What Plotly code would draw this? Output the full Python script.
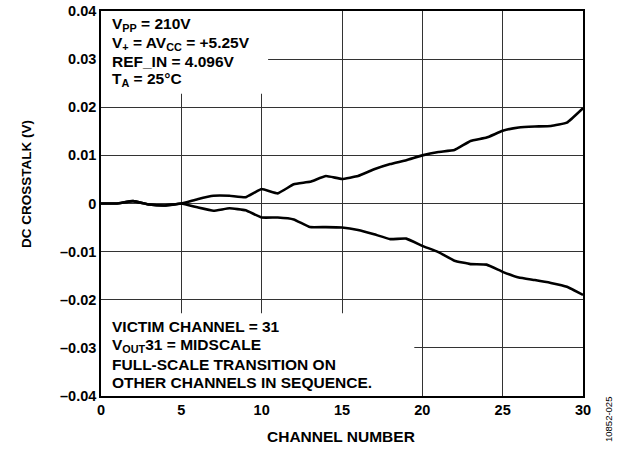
import plotly.graph_objects as go

channels = list(range(0, 31))
upper = [0, 0, 0.0005, -0.0002, -0.0004, 0, 0.0009, 0.0016, 0.0016, 0.0013, 0.003,
         0.0021, 0.004, 0.0045, 0.0057, 0.0051, 0.0057, 0.0071, 0.0082, 0.009, 0.01,
         0.0107, 0.0111, 0.013, 0.0137, 0.0151, 0.0158, 0.016, 0.0161, 0.0168, 0.0198]
lower = [0, 0, 0.0005, -0.0002, -0.0004, 0, -0.0008, -0.0015, -0.001, -0.0014, -0.0029,
         -0.0029, -0.0033, -0.0049, -0.0049, -0.005, -0.0055, -0.0064, -0.0074, -0.0073, -0.0088,
         -0.0101, -0.0119, -0.0126, -0.0127, -0.0142, -0.0154, -0.0159, -0.0165, -0.0173, -0.019]

x_ticks = [0, 5, 10, 15, 20, 25, 30]
y_ticks = [0.04, 0.03, 0.02, 0.01, 0, -0.01, -0.02, -0.03, -0.04]
y_tick_text = ["0.04", "0.03", "0.02", "0.01", "0", "–0.01", "–0.02", "–0.03", "–0.04"]

top_lines = ["V<sub>PP</sub> = 210V", "V<sub>+</sub> = AV<sub>CC</sub> = +5.25V",
             "REF_IN = 4.096V", "T<sub>A</sub> = 25°C"]
bottom_lines = ["VICTIM CHANNEL = 31", "V<sub>OUT</sub>31 = MIDSCALE",
                "FULL-SCALE TRANSITION ON", "OTHER CHANNELS IN SEQUENCE."]

FONT = "Liberation Sans, Arial, sans-serif"

fig = go.Figure()
for ys in (upper, lower):
    fig.add_trace(go.Scatter(x=channels, y=ys, mode="lines",
                             line=dict(color="black", width=2.6, shape="spline", smoothing=0.3),
                             showlegend=False, hoverinfo="skip"))

fig.update_layout(
    width=624, height=452, autosize=False,
    margin=dict(l=101, r=41, t=11, b=56, pad=0),
    paper_bgcolor="white", plot_bgcolor="white",
    font=dict(family=FONT, size=12, color="black", weight="bold"),
    xaxis=dict(range=[0, 30], tickvals=x_ticks, ticktext=[str(v) for v in x_ticks],
               showgrid=True, gridcolor="#333333", gridwidth=1, automargin=False,
               showline=True, linecolor="black", linewidth=1.5, mirror=True,
               zeroline=False, ticks="", ticklen=0,
               tickfont=dict(size=14.5, weight="bold")),
    yaxis=dict(range=[-0.04, 0.04], tickvals=y_ticks, ticktext=y_tick_text,
               showgrid=True, gridcolor="#333333", gridwidth=1, automargin=False,
               showline=True, linecolor="black", linewidth=1.5, mirror=True,
               zeroline=False, ticks="", ticklen=0,
               tickfont=dict(size=14.5, weight="bold")),
)

# white boxes behind text, covering gridlines
fig.add_shape(type="rect", xref="x", yref="y", x0=0, x1=10.4, y0=0.0228, y1=0.04,
              fillcolor="white", line=dict(width=0), layer="between")
fig.add_shape(type="rect", xref="x", yref="y", x0=0, x1=19.5, y0=-0.04, y1=-0.0228,
              fillcolor="white", line=dict(width=0), layer="between")

top_y = [0.0371, 0.0333, 0.0295, 0.0257]
bot_y = [-0.0256, -0.0295, -0.0334, -0.0372]
for txt, yy in zip(top_lines, top_y):
    fig.add_annotation(x=0.55, y=yy, xref="x", yref="y", text=txt, showarrow=False,
                       xanchor="left", yanchor="middle",
                       font=dict(family=FONT, size=15.5, weight="bold"))
for txt, yy in zip(bottom_lines, bot_y):
    fig.add_annotation(x=0.55, y=yy, xref="x", yref="y", text=txt, showarrow=False,
                       xanchor="left", yanchor="middle",
                       font=dict(family=FONT, size=15.5, weight="bold"))

# axis titles
fig.add_annotation(xref="x domain", yref="y domain", x=(341 - 101) / 482, y=-(437 - 396) / 385,
                   text="CHANNEL NUMBER", showarrow=False, xanchor="center", yanchor="middle",
                   font=dict(family=FONT, size=15.5, weight="bold"))
fig.add_annotation(xref="x domain", yref="y domain", x=-(101 - 26) / 482, y=(396 - 184) / 385,
                   text="DC CROSSTALK (V)", textangle=-90, showarrow=False,
                   xanchor="center", yanchor="middle",
                   font=dict(family=FONT, size=13.5, weight="bold"))
fig.add_annotation(xref="x domain", yref="y domain", x=(608 - 101) / 482, y=(396 - 420) / 385,
                   text="10852-025", textangle=-90, showarrow=False,
                   xanchor="center", yanchor="middle",
                   font=dict(family=FONT, size=9.5, weight="normal"))

fig.write_html("out.html", config={"displayModeBar": False},
               post_script="document.body.style.margin='0';document.body.style.overflow='hidden';")
